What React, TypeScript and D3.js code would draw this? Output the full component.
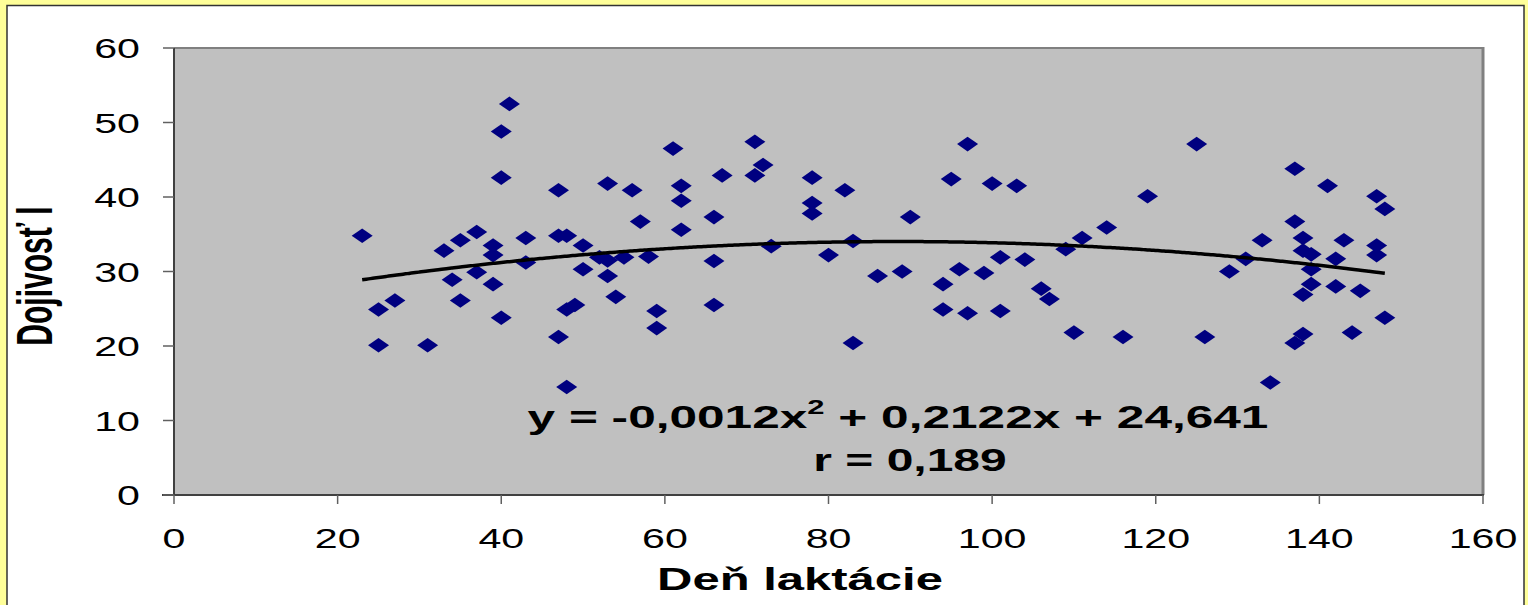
import React from "react";
import * as d3 from "d3";

const width = 1528;
const height = 605;
const plot = { left: 174, right: 1483, top: 48, bottom: 495 };

// deň laktácie (x) a dojivosť v litroch (y), odčítané z grafu
const days = [
  23, 25, 25, 27, 31, 33, 34, 35, 35, 37,
  37, 39, 39, 39, 40, 40, 40, 41, 43, 43,
  47, 47, 48, 47, 48, 48, 49, 50, 50, 52,
  53, 53, 53, 54, 55, 56, 57, 58, 59, 59,
  61, 62, 62, 62, 66, 66, 66, 67, 71, 72,
  71, 73, 78, 78, 78, 80, 82, 83, 83, 86,
  89, 90, 94, 94, 95, 96, 97, 97, 99, 100,
  101, 101, 103, 104, 106, 107, 109, 110, 111, 114,
  116, 119, 125, 126, 129, 131, 133, 134, 137, 137,
  137, 138, 138, 138, 138, 139, 139, 139, 141, 142,
  142, 143, 144, 145, 147, 147, 147, 148, 148,
];
const milk = [
  34.8, 24.9, 20.1, 26.1, 20.1, 32.8, 28.9, 34.2, 26.1, 35.3,
  29.9, 33.5, 32.2, 28.3, 23.8, 42.6, 48.8, 52.5, 34.5, 31.2,
  40.9, 34.8, 34.8, 21.2, 14.5, 24.9, 25.5, 33.5, 30.3, 31.9,
  31.5, 41.8, 29.4, 26.6, 31.9, 40.9, 36.7, 32.0, 24.7, 22.4,
  46.5, 41.5, 39.5, 35.6, 37.3, 31.4, 25.5, 42.9, 47.4, 44.3,
  42.9, 33.4, 42.6, 39.2, 37.8, 32.2, 40.9, 34.1, 20.4, 29.4,
  30.0, 37.3, 28.3, 24.9, 42.4, 30.3, 47.1, 24.4, 29.8, 41.8,
  31.9, 24.7, 41.5, 31.6, 27.7, 26.3, 33.0, 21.8, 34.5, 35.9,
  21.2, 40.1, 47.1, 21.2, 30.0, 31.7, 34.2, 15.1, 43.8, 36.7,
  20.4, 34.5, 32.8, 26.9, 21.6, 30.3, 28.3, 32.3, 41.5, 31.7,
  28.0, 34.2, 21.8, 27.4, 40.1, 33.5, 32.2, 38.4, 23.8,
];

const xTicks = [0, 20, 40, 60, 80, 100, 120, 140, 160];
const yTicks = [0, 10, 20, 30, 40, 50, 60];

// polynomická spojnica trendu: y = a + b*x + c*x^2
const trendCoef = [24.641, 0.2122, -0.0012];
const eqStart = "y = -0,0012x";
const eqSup = "2";
const eqEnd = " + 0,2122x + 24,641";
const rText = "r = 0,189";

const xTitle = "Deň laktácie";
const yTitle = "Dojivosť l";

const diamond = "M0,-7.3L10.5,0L0,7.3L-10.5,0Z";

export default function App() {
  const x = d3.scaleLinear().domain([0, 160]).range([plot.left, plot.right]);
  const y = d3.scaleLinear().domain([0, 60]).range([plot.bottom, plot.top]);

  const [xmin, xmax] = d3.extent(days) as [number, number];
  const trendX = d3.range(xmin, xmax + 0.01, 0.5);
  const trend = d3
    .line<number>()
    .x(d => x(d))
    .y(d => y(trendCoef[0] + trendCoef[1] * d + trendCoef[2] * d * d))
    .curve(d3.curveMonotoneX);

  const font = "'Liberation Sans', Arial, sans-serif";

  return (
    <svg
      width={width}
      height={height}
      style={{ position: "absolute", left: 0, top: 0, display: "block" }}
      fontFamily={font}
    >
      <rect x={0} y={0} width={width} height={height} fill="#ffff99" />
      <rect x={7} y={5.5} width={1517} height={700} fill="#ffffff" stroke="#333" strokeWidth={1.5} />

      {/* plot area */}
      <rect
        x={plot.left}
        y={plot.top}
        width={plot.right - plot.left}
        height={plot.bottom - plot.top}
        fill="#c0c0c0"
      />
      <line x1={plot.left} x2={plot.right} y1={plot.top} y2={plot.top} stroke="#808080" strokeWidth={2} />
      <line x1={plot.right} x2={plot.right} y1={plot.top - 1} y2={plot.bottom} stroke="#808080" strokeWidth={3} />

      {/* axes */}
      <line x1={plot.left} x2={plot.left} y1={plot.top} y2={plot.bottom} stroke="#404040" strokeWidth={2} />
      <line x1={plot.left - 12} x2={plot.right + 1} y1={plot.bottom} y2={plot.bottom} stroke="#404040" strokeWidth={2} />
      {yTicks.map(t => (
        <g key={"y" + t}>
          <line x1={plot.left - 11} x2={plot.left} y1={y(t)} y2={y(t)} stroke="#606060" strokeWidth={1.5} />
          <text
            transform={`translate(140,${y(t) + 10}) scale(1.47,1)`}
            textAnchor="end"
            fontSize={28}
            fill="#000"
          >
            {t}
          </text>
        </g>
      ))}
      {xTicks.map(t => (
        <g key={"x" + t}>
          <line x1={x(t)} x2={x(t)} y1={plot.bottom} y2={plot.bottom + 9} stroke="#606060" strokeWidth={1.5} />
          <text
            transform={`translate(${x(t)},548) scale(1.47,1)`}
            textAnchor="middle"
            fontSize={28}
            fill="#000"
          >
            {t}
          </text>
        </g>
      ))}

      {/* points */}
      {days.map((d, i) => (
        <path key={i} d={diamond} transform={`translate(${x(d)},${y(milk[i])})`} fill="#000080" />
      ))}

      {/* trend */}
      <path d={trend(trendX) || ""} fill="none" stroke="#000" strokeWidth={3.5} />

      {/* equation */}
      <text
        transform="translate(898,428) scale(1.55,1)"
        textAnchor="middle"
        fontSize={32}
        fontWeight="bold"
        fill="#000"
      >
        {eqStart}
        <tspan dy={-14} fontSize={20}>{eqSup}</tspan>
        <tspan dy={14} fontSize={32}>{eqEnd}</tspan>
      </text>
      <text
        transform="translate(910,471) scale(1.5,1)"
        textAnchor="middle"
        fontSize={32}
        fontWeight="bold"
        fill="#000"
      >
        {rText}
      </text>

      {/* axis titles */}
      <text
        transform="translate(800,590) scale(1.58,1)"
        textAnchor="middle"
        fontSize={31}
        fontWeight="bold"
        fill="#000"
      >
        {xTitle}
      </text>
      <text
        transform="translate(52,276) scale(1.65,1) rotate(-90)"
        textAnchor="middle"
        fontSize={30}
        fontWeight="bold"
        fill="#000"
      >
        {yTitle}
      </text>
    </svg>
  );
}
